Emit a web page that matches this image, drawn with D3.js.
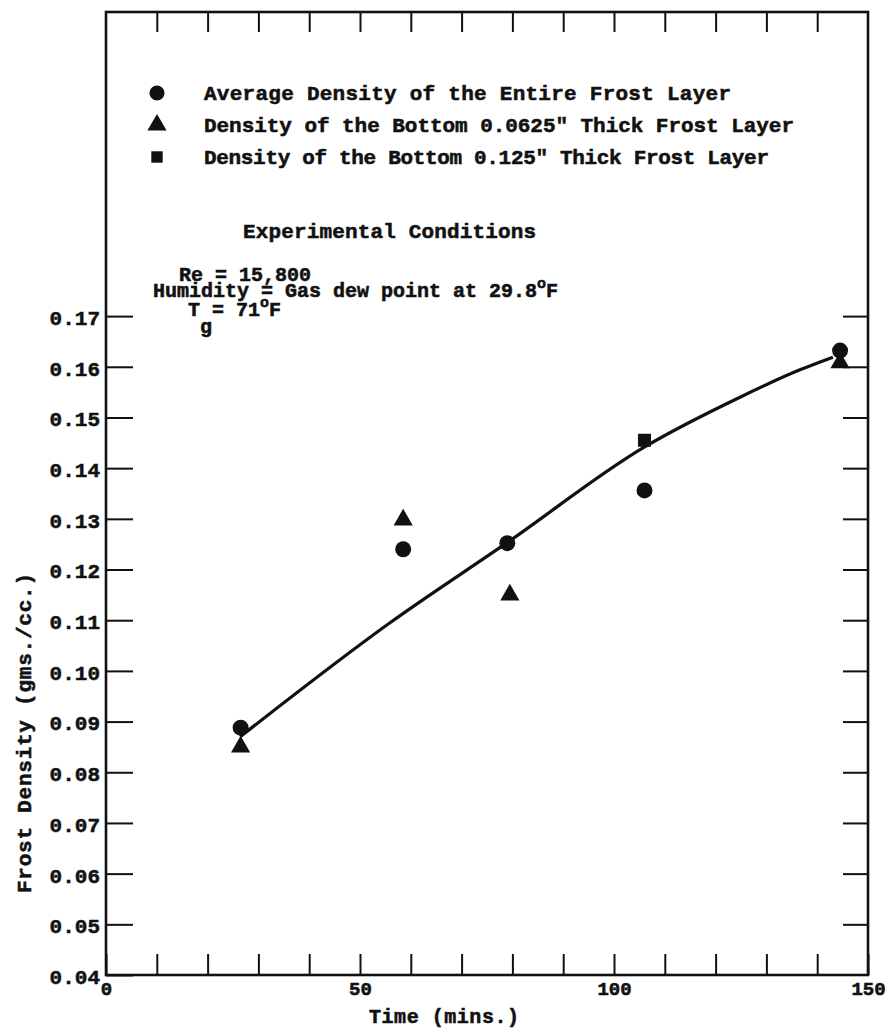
<!DOCTYPE html>
<html>
<head>
<meta charset="utf-8">
<script src="https://cdn.jsdelivr.net/npm/d3@7"></script>
<style>
  html, body { margin: 0; padding: 0; background: #fff; }
  svg { display: block; }
  text { font-family: "Liberation Mono", "Courier New", monospace; font-weight: bold; fill: #111; stroke: #111; stroke-width: 0.55px; }
</style>
</head>
<body>
<svg id="chart" width="886" height="1030"></svg>
<script>
// Frost density measurements (gms./cc.) against time (mins.)
const avgTime      = [26.5, 58.5, 79, 106, 144.5];
const avgDensity   = [0.0888, 0.1240, 0.1252, 0.1356, 0.1632];
const bot0625Time    = [26.5, 58.5, 79.5, 144.5];
const bot0625Density = [0.0850, 0.1298, 0.1150, 0.1608];
const bot125Time    = [106];
const bot125Density = [0.1455];

// Smooth trend line drawn through the data
const fitTime    = [26.4, 55.9, 79.1, 105.7, 124.8, 136.6, 143.1];
const fitDensity = [0.0870, 0.1095, 0.1254, 0.1440, 0.1540, 0.1594, 0.1619];

const xTicks = [0, 10, 20, 30, 40, 50, 60, 70, 80, 90, 100, 110, 120, 130, 140, 150];
const xLabels = [0, 50, 100, 150];
const yTicks = [0.04, 0.05, 0.06, 0.07, 0.08, 0.09, 0.10, 0.11, 0.12, 0.13, 0.14, 0.15, 0.16, 0.17];

const legendLabels = [
  "Average Density of the Entire Frost Layer",
  "Density of the Bottom 0.0625\" Thick Frost Layer",
  "Density of the Bottom 0.125\" Thick Frost Layer"
];

const svg = d3.select("#chart");
const x = d3.scaleLinear().domain([0, 150]).range([106, 868]);
const y = d3.scaleLinear().domain([0.04, 0.23]).range([975, 12]);
const ink = "#111";

// frame
svg.append("rect")
  .attr("x", x(0)).attr("y", y(0.23))
  .attr("width", x(150) - x(0)).attr("height", y(0.04) - y(0.23))
  .attr("fill", "none").attr("stroke", ink).attr("stroke-width", 2.6);

function styleAxis(g) {
  g.select(".domain").remove();
  g.selectAll(".tick line").attr("stroke", ink).attr("stroke-width", 2);
  g.selectAll(".tick text").style("font-family", "'Liberation Mono', monospace")
    .style("font-weight", "bold").attr("fill", ink)
    .attr("stroke", ink).attr("stroke-width", 0.55);
}

// bottom axis, inward ticks
svg.append("g").attr("transform", `translate(0,${y(0.04)})`)
  .call(d3.axisBottom(x).tickValues(xTicks).tickSize(-21).tickPadding(7)
    .tickFormat(d => xLabels.includes(d) ? d : ""))
  .call(styleAxis)
  .call(g => g.selectAll(".tick text").style("font-size", "19px"));

// top axis, ticks only
svg.append("g").attr("transform", `translate(0,${y(0.23)})`)
  .call(d3.axisTop(x).tickValues(xTicks.slice(1, -1)).tickSize(-20).tickFormat(""))
  .call(styleAxis);

// left axis
svg.append("g").attr("transform", `translate(${x(0)},0)`)
  .call(d3.axisLeft(y).tickValues(yTicks).tickSize(-27).tickPadding(6)
    .tickFormat(d3.format(".2f")))
  .call(styleAxis)
  .call(g => g.selectAll(".tick text").style("font-size", "21px").attr("dy", "0.4em"));

// right axis, ticks only
svg.append("g").attr("transform", `translate(${x(150)},0)`)
  .call(d3.axisRight(y).tickValues(yTicks.slice(1)).tickSize(-25).tickFormat(""))
  .call(styleAxis);

// axis titles
svg.append("text").attr("x", 444).attr("y", 1023)
  .attr("text-anchor", "middle").style("font-size", "20px")
  .attr("textLength", 150).attr("lengthAdjust", "spacing")
  .text("Time (mins.)");
svg.append("text")
  .attr("transform", "translate(31,733) rotate(-90)")
  .attr("text-anchor", "middle").style("font-size", "21px")
  .attr("textLength", 320).attr("lengthAdjust", "spacing")
  .text("Frost Density (gms./cc.)");

// fitted curve
const fit = fitTime.map((t, i) => [t, fitDensity[i]]);
svg.append("path")
  .datum(fit)
  .attr("d", d3.line().x(d => x(d[0])).y(d => y(d[1])).curve(d3.curveMonotoneX))
  .attr("fill", "none").attr("stroke", ink).attr("stroke-width", 3.2);

// markers
const circleSym = d3.symbol().type(d3.symbolCircle).size(200);
const triSym = d3.symbol().type(d3.symbolTriangle).size(160);
const sqSym = d3.symbol().type(d3.symbolSquare).size(170);

svg.append("g").selectAll("path")
  .data(avgTime.map((t, i) => [t, avgDensity[i]]))
  .join("path")
  .attr("transform", d => `translate(${x(d[0])},${y(d[1])})`)
  .attr("d", circleSym).attr("fill", ink);

svg.append("g").selectAll("path")
  .data(bot0625Time.map((t, i) => [t, bot0625Density[i]]))
  .join("path")
  .attr("transform", d => `translate(${x(d[0])},${y(d[1])})`)
  .attr("d", triSym).attr("fill", ink);

svg.append("g").selectAll("path")
  .data(bot125Time.map((t, i) => [t, bot125Density[i]]))
  .join("path")
  .attr("transform", d => `translate(${x(d[0])},${y(d[1])})`)
  .attr("d", sqSym).attr("fill", ink);

// legend
const legendSyms = [d3.symbol().type(d3.symbolCircle).size(180), triSym,
                    d3.symbol().type(d3.symbolSquare).size(130)];
const legendWidths = [527, 590, 565];
const legend = svg.append("g");
legendLabels.forEach((lab, i) => {
  const cy = 93 + i * 32;
  legend.append("path").attr("transform", `translate(157,${cy})`)
    .attr("d", legendSyms[i]).attr("fill", ink);
  legend.append("text").attr("x", 204).attr("y", cy + 7)
    .style("font-size", "21px")
    .attr("textLength", legendWidths[i]).attr("lengthAdjust", "spacing")
    .text(lab);
});

// experimental conditions block
svg.append("text").attr("x", 243).attr("y", 238).style("font-size", "21px")
  .attr("textLength", 293).attr("lengthAdjust", "spacing")
  .text("Experimental Conditions");
svg.append("text").attr("x", 179).attr("y", 281).style("font-size", "20px")
  .text("Re = 15,800");
const hum = svg.append("text").attr("x", 153).attr("y", 297).style("font-size", "20px");
hum.append("tspan").text("Humidity = Gas dew point at 29.8");
hum.append("tspan").attr("dy", -9).style("font-size", "15px").text("o");
hum.append("tspan").attr("dy", 9).text("F");
const tg = svg.append("text").attr("x", 188).attr("y", 316).style("font-size", "20px");
tg.append("tspan").text("T");
tg.append("tspan").attr("dy", 17).text("g");
tg.append("tspan").attr("dy", -17).text("= 71");
tg.append("tspan").attr("dy", -9).style("font-size", "15px").text("o");
tg.append("tspan").attr("dy", 9).text("F");
</script>
</body>
</html>
